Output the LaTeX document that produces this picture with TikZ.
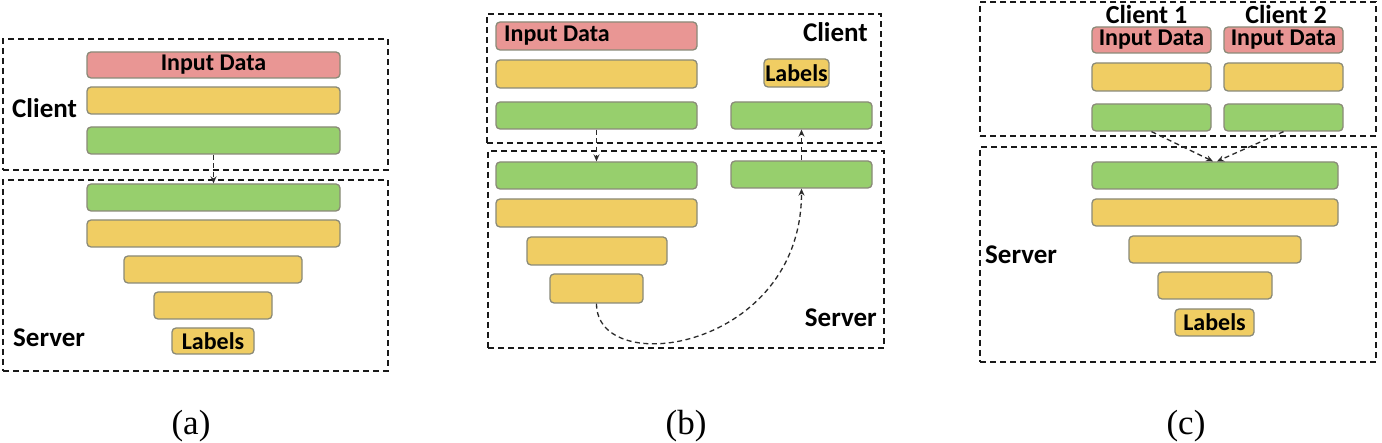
\documentclass[tikz,border=0pt]{standalone}
\usepackage{fontspec}
\setmainfont{Carlito}
\newfontfamily\capfont{Liberation Serif}
\usetikzlibrary{arrows.meta}
\definecolor{barred}{HTML}{E99694}
\definecolor{baryellow}{HTML}{F0CD63}
\definecolor{bargreen}{HTML}{97CF6D}
\definecolor{barline}{HTML}{8A8A78}
\definecolor{arrowcol}{HTML}{2A2A2A}
\tikzset{
  bar/.style={draw=barline, line width=1.3pt, rounded corners=4pt, inner sep=0pt,
    minimum height=27pt, font=\bfseries\fontsize{24}{24}\selectfont},
  redbar/.style={bar, fill=barred},
  yelbar/.style={bar, fill=baryellow},
  grnbar/.style={bar, fill=bargreen},
  frame/.style={draw=black!90, line width=1.5pt, dash pattern=on 6pt off 4pt},
  sidelabel/.style={inner sep=0pt, font=\bfseries\fontsize{27}{27}\selectfont},
  barlabel/.style={inner sep=0pt, font=\bfseries\fontsize{24}{24}\selectfont},
  flow/.style={draw=arrowcol, line width=1.3pt, dash pattern=on 5pt off 3.5pt,
    -{Stealth[length=7pt,width=6pt]}},
  caption/.style={inner sep=0pt, anchor=base, font=\capfont\fontsize{35}{35}\selectfont}
}
\begin{document}
\begin{tikzpicture}[x=1pt,y=-1pt]
\useasboundingbox[fill=white] (0,0) rectangle (1382,443);

% ---------------- (a) ----------------
\node[frame, minimum width=385pt, minimum height=131pt, inner sep=0pt] (aclient) at (195.5,104.5) {};
\node[frame, minimum width=385pt, minimum height=191pt, inner sep=0pt] (aserver) at (195.5,275.5) {};
\node[redbar, minimum width=253pt, minimum height=26pt] (a1) at (213.5,65) {Input Data};
\node[yelbar, minimum width=253pt] (a2) at (213.5,100.5) {};
\node[grnbar, minimum width=253pt] (a3) at (213.5,140.5) {};
\node[grnbar, minimum width=253pt] (a4) at (213.5,197.5) {};
\node[yelbar, minimum width=253pt] (a5) at (213.5,233.5) {};
\node[yelbar, minimum width=178pt] (a6) at (213,269.5) {};
\node[yelbar, minimum width=118pt] (a7) at (213,305.5) {};
\node[yelbar, minimum width=82pt, minimum height=26pt] (a8) at (213,341) {Labels};
\node[sidelabel, anchor=west] (aclt) at (12,108) {Client};
\node[sidelabel, anchor=west] (asrv) at (13,338) {Server};
\draw[flow] (a3.south) -- (a4.north);
\node[caption] (capa) at (191,435) {(a)};

% ---------------- (b) ----------------
\node[frame, minimum width=394pt, minimum height=129pt, inner sep=0pt] (bclient) at (684,78.5) {};
\node[frame, minimum width=396pt, minimum height=197pt, inner sep=0pt] (bserver) at (686,249.5) {};
\node[redbar, minimum width=201pt, minimum height=28pt] (b1) at (596.5,36) {};
\node[barlabel, anchor=west] (b1t) at (504,36) {Input Data};
\node[yelbar, minimum width=201pt, minimum height=28pt] (b2) at (596.5,74) {};
\node[grnbar, minimum width=201pt] (b3) at (596.5,115.5) {};
\node[yelbar, minimum width=65pt, minimum height=28pt] (b4) at (796.5,73) {Labels};
\node[grnbar, minimum width=141pt] (b5) at (801.5,115.5) {};
\node[grnbar, minimum width=201pt] (b6) at (596.5,175.5) {};
\node[grnbar, minimum width=141pt] (b7) at (801.5,174.5) {};
\node[yelbar, minimum width=201pt, minimum height=28pt] (b8) at (596.5,213) {};
\node[yelbar, minimum width=140pt, minimum height=28pt] (b9) at (597,251) {};
\node[yelbar, minimum width=93pt, minimum height=29pt] (b10) at (596.5,288.5) {};
\node[sidelabel, anchor=east] (bclt) at (868,32) {Client};
\node[sidelabel, anchor=east] (bsrv) at (877,318) {Server};
\draw[flow] (b3.south) -- (b6.north);
\draw[flow] (b7.north) -- (b5.south);
\draw[flow] (b10.south) .. controls (596.5,380) and (801.5,350) .. (b7.south);
\node[caption] (capb) at (686,435) {(b)};

% ---------------- (c) ----------------
\node[frame, minimum width=396pt, minimum height=134pt, inner sep=0pt] (cclient) at (1178,69) {};
\node[frame, minimum width=396pt, minimum height=215pt, inner sep=0pt] (cserver) at (1178,254.5) {};
\node[sidelabel, font=\bfseries\fontsize{26}{26}\selectfont] (cc1) at (1146.5,14) {Client 1};
\node[sidelabel, font=\bfseries\fontsize{26}{26}\selectfont] (cc2) at (1286,14) {Client 2};
\node[redbar, minimum width=119pt, minimum height=26pt] (c1) at (1151.5,40) {Input Data};
\node[redbar, minimum width=119pt, minimum height=26pt] (c2) at (1283.5,40) {Input Data};
\node[yelbar, minimum width=119pt, minimum height=28pt] (c3) at (1151.5,77) {};
\node[yelbar, minimum width=119pt, minimum height=28pt] (c4) at (1283.5,77) {};
\node[grnbar, minimum width=119pt] (c5) at (1151.5,117.5) {};
\node[grnbar, minimum width=119pt] (c6) at (1283.5,117.5) {};
\node[grnbar, minimum width=246pt] (c7) at (1215,175.5) {};
\node[yelbar, minimum width=246pt] (c8) at (1215,212.5) {};
\node[yelbar, minimum width=172pt] (c9) at (1215,249.5) {};
\node[yelbar, minimum width=114pt] (c10) at (1215,285.5) {};
\node[yelbar, minimum width=79pt] (c11) at (1214.5,322.5) {Labels};
\node[sidelabel, anchor=west] (csrv) at (985,255) {Server};
\draw[flow] (c5.south) -- ([xshift=-2pt]c7.north);
\draw[flow] (c6.south) -- ([xshift=2pt]c7.north);
\node[caption] (capc) at (1186,435) {(c)};
\end{tikzpicture}
\end{document}
